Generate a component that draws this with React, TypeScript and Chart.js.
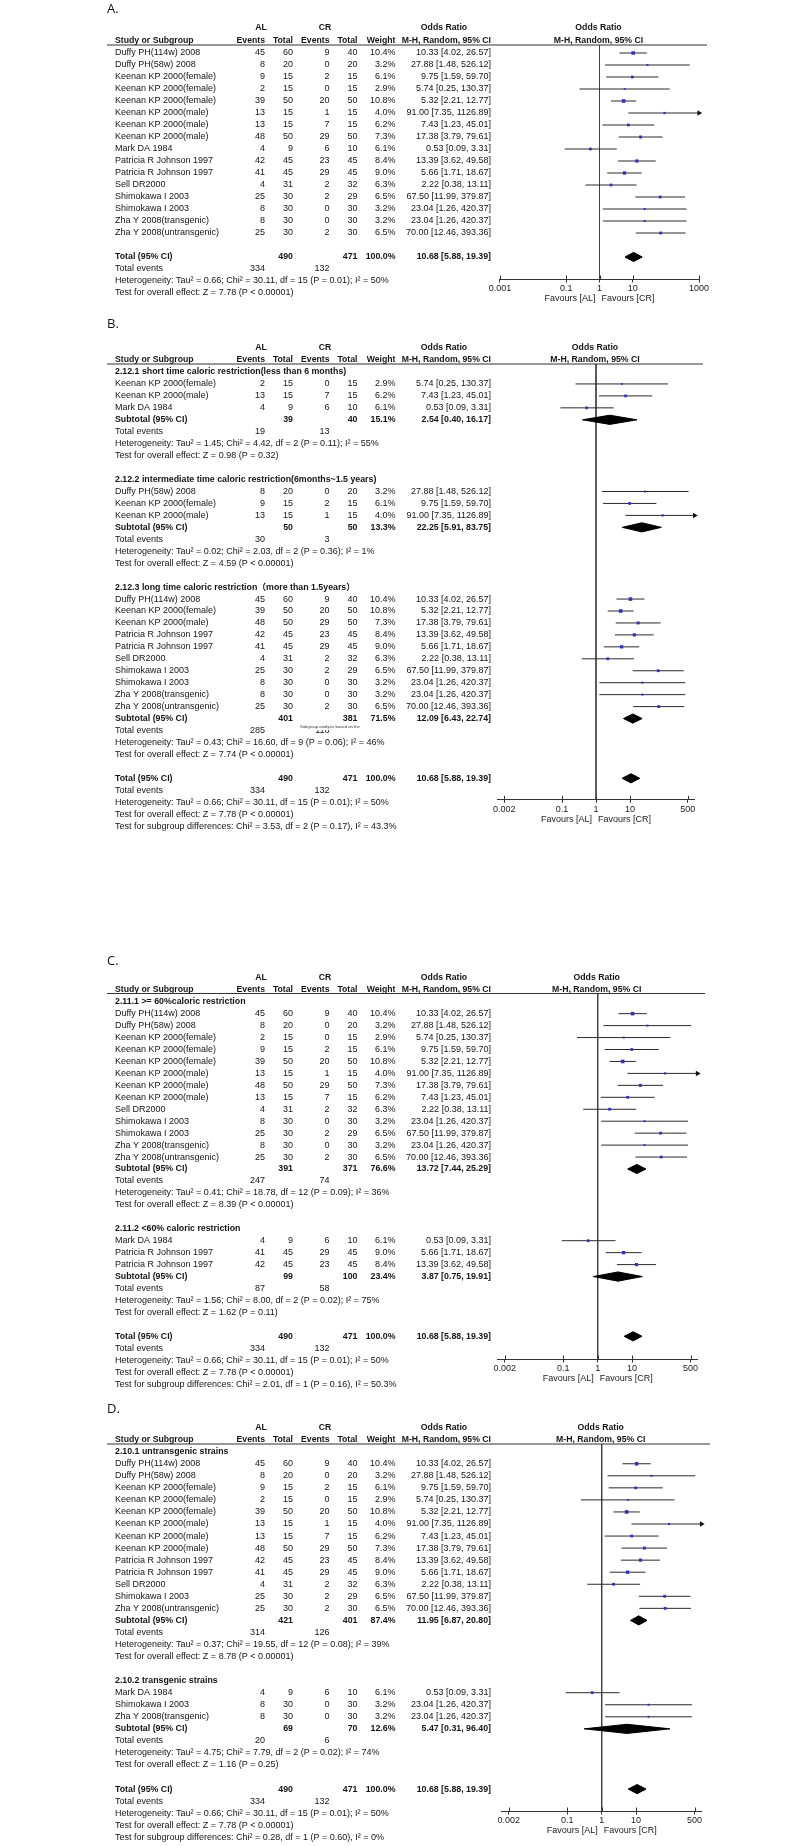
import React, { useEffect, useRef } from 'react';
import { Chart, registerables } from 'chart.js';
Chart.register(...registerables);

// ---------------- Study-level data (order of panel A) ----------------
const studyNames = [
  'Duffy PH(114w) 2008', 'Duffy PH(58w) 2008', 'Keenan KP 2000(female)', 'Keenan KP 2000(female)',
  'Keenan KP 2000(female)', 'Keenan KP 2000(male)', 'Keenan KP 2000(male)', 'Keenan KP 2000(male)',
  'Mark DA 1984', 'Patricia R Johnson 1997', 'Patricia R Johnson 1997', 'Sell DR2000',
  'Shimokawa I 2003', 'Shimokawa I 2003', 'Zha Y 2008(transgenic)', 'Zha Y 2008(untransgenic)',
];
const alEvents = [45, 8, 9, 2, 39, 13, 13, 48, 4, 42, 41, 4, 25, 8, 8, 25];
const alTotals = [60, 20, 15, 15, 50, 15, 15, 50, 9, 45, 45, 31, 30, 30, 30, 30];
const crEvents = [9, 0, 2, 0, 20, 1, 7, 29, 6, 23, 29, 2, 2, 0, 0, 2];
const crTotals = [40, 20, 15, 15, 50, 15, 15, 50, 10, 45, 45, 32, 29, 30, 30, 30];
const weights = [10.4, 3.2, 6.1, 2.9, 10.8, 4.0, 6.2, 7.3, 6.1, 8.4, 9.0, 6.3, 6.5, 3.2, 3.2, 6.5];
const orEst = [10.33, 27.88, 9.75, 5.74, 5.32, 91.0, 7.43, 17.38, 0.53, 13.39, 5.66, 2.22, 67.5, 23.04, 23.04, 70.0];
const orLow = [4.02, 1.48, 1.59, 0.25, 2.21, 7.35, 1.23, 3.79, 0.09, 3.62, 1.71, 0.38, 11.99, 1.26, 1.26, 12.46];
const orHigh = [26.57, 526.12, 59.7, 130.37, 12.77, 1126.89, 45.01, 79.61, 3.31, 49.58, 18.67, 13.11, 379.87, 420.37, 420.37, 393.36];

// ---------------- Overall totals ----------------
const totalTotals = [490, 471];
const totalEvents = [334, 132];
const totalWeight = 100.0;
const totalOR = [10.68, 5.88, 19.39];
const totalHet = [0.66, 30.11, 15]; // tau2, chi2, df
const totalHetP = '0.01';
const totalI2 = 50;
const totalZ = 7.78;
const totalZP = '< 0.00001';

// ---------------- Panel B subgroups ----------------
const bTitles = [
  '2.12.1 short time caloric restriction(less than 6 months)',
  '2.12.2 intermediate time caloric restriction(6months~1.5 years)',
  '2.12.3 long time caloric restriction（more than 1.5years）',
];
const bMembers = [[3, 6, 8], [1, 2, 5], [0, 4, 7, 9, 10, 11, 12, 13, 14, 15]];
const bSubTotAL = [39, 50, 401];
const bSubTotCR = [40, 50, 381];
const bSubWeight = [15.1, 13.3, 71.5];
const bSubEst = [2.54, 22.25, 12.09];
const bSubLow = [0.4, 5.91, 6.43];
const bSubHigh = [16.17, 83.75, 22.74];
const bEvAL = [19, 30, 285];
const bEvCR = [13, 3, 116];
const bTau = [1.45, 0.02, 0.43];
const bChi = [4.42, 2.03, 16.6];
const bDf = [2, 2, 9];
const bP = ['0.11', '0.36', '0.06'];
const bI2 = [55, 1, 46];
const bZ = [0.98, 4.59, 7.74];
const bZP = ['= 0.32', '< 0.00001', '< 0.00001'];
const bDiff = [3.53, 2, '0.17', '43.3'];

// ---------------- Panel C subgroups ----------------
const cTitles = ['2.11.1 >= 60%caloric restriction', '2.11.2 <60% caloric restriction'];
const cMembers = [[0, 1, 3, 2, 4, 5, 7, 6, 11, 13, 12, 14, 15], [8, 10, 9]];
const cSubTotAL = [391, 99];
const cSubTotCR = [371, 100];
const cSubWeight = [76.6, 23.4];
const cSubEst = [13.72, 3.87];
const cSubLow = [7.44, 0.75];
const cSubHigh = [25.29, 19.91];
const cEvAL = [247, 87];
const cEvCR = [74, 58];
const cTau = [0.41, 1.56];
const cChi = [18.78, 8.0];
const cDf = [12, 2];
const cP = ['0.09', '0.02'];
const cI2 = [36, 75];
const cZ = [8.39, 1.62];
const cZP = ['< 0.00001', '= 0.11'];
const cDiff = [2.01, 1, '0.16', '50.3'];

// ---------------- Panel D subgroups ----------------
const dTitles = ['2.10.1 untransgenic strains', '2.10.2 transgenic strains'];
const dMembers = [[0, 1, 2, 3, 4, 5, 6, 7, 9, 10, 11, 12, 15], [8, 13, 14]];
const dSubTotAL = [421, 69];
const dSubTotCR = [401, 70];
const dSubWeight = [87.4, 12.6];
const dSubEst = [11.95, 5.47];
const dSubLow = [6.87, 0.31];
const dSubHigh = [20.8, 96.4];
const dEvAL = [314, 20];
const dEvCR = [126, 6];
const dTau = [0.37, 4.75];
const dChi = [19.55, 7.79];
const dDf = [12, 2];
const dP = ['0.08', '0.02'];
const dI2 = [39, 74];
const dZ = [8.78, 1.16];
const dZP = ['< 0.00001', '= 0.25'];
const dDiff = [0.28, 1, '0.60', '0'];

// ---------------- Axis ticks ----------------
const ticksA = [0.001, 0.1, 1, 10, 1000];
const ticksBCD = [0.002, 0.1, 1, 10, 500];

// ---------------- helpers ----------------
type Sub = { label: string; alT: number; crT: number; w: number; est: number; lo: number; hi: number };
type Row =
  | { k: 'study'; i: number }
  | { k: 'head'; t: string }
  | { k: 'sub'; s: Sub }
  | { k: 'events'; a: number; c: number }
  | { k: 'text'; t: string }
  | { k: 'blank' };

const hetText = (tau: number, chi: number, df: number, p: string, i2: number | string) =>
  `Heterogeneity: Tau² = ${tau.toFixed(2)}; Chi² = ${chi.toFixed(2)}, df = ${df} (P = ${p}); I² = ${i2}%`;
const testText = (z: number, p: string) => `Test for overall effect: Z = ${z.toFixed(2)} (P ${p})`;
const diffText = (d: any[]) =>
  `Test for subgroup differences: Chi² = ${Number(d[0]).toFixed(2)}, df = ${d[1]} (P = ${d[2]}), I² = ${d[3]}%`;
const orText = (e: number, l: number, h: number) => `${e.toFixed(2)} [${l.toFixed(2)}, ${h.toFixed(2)}]`;

type GroupSet = {
  titles: string[]; members: number[][]; totAL: number[]; totCR: number[]; w: number[];
  est: number[]; lo: number[]; hi: number[]; evAL: number[]; evCR: number[];
  tau: number[]; chi: number[]; df: number[]; p: string[]; i2: number[]; z: number[]; zp: string[]; diff: any[];
};

function buildRows(g: GroupSet | null): Row[] {
  const rows: Row[] = [];
  if (!g) {
    studyNames.forEach((_, i) => rows.push({ k: 'study', i }));
    rows.push({ k: 'blank' });
  } else {
    g.titles.forEach((t, gi) => {
      rows.push({ k: 'head', t });
      g.members[gi].forEach((i) => rows.push({ k: 'study', i }));
      rows.push({
        k: 'sub',
        s: { label: 'Subtotal (95% CI)', alT: g.totAL[gi], crT: g.totCR[gi], w: g.w[gi], est: g.est[gi], lo: g.lo[gi], hi: g.hi[gi] },
      });
      rows.push({ k: 'events', a: g.evAL[gi], c: g.evCR[gi] });
      rows.push({ k: 'text', t: hetText(g.tau[gi], g.chi[gi], g.df[gi], g.p[gi], g.i2[gi]) });
      rows.push({ k: 'text', t: testText(g.z[gi], g.zp[gi]) });
      rows.push({ k: 'blank' });
    });
  }
  rows.push({
    k: 'sub',
    s: { label: 'Total (95% CI)', alT: totalTotals[0], crT: totalTotals[1], w: totalWeight, est: totalOR[0], lo: totalOR[1], hi: totalOR[2] },
  });
  rows.push({ k: 'events', a: totalEvents[0], c: totalEvents[1] });
  rows.push({ k: 'text', t: hetText(totalHet[0], totalHet[1], totalHet[2], totalHetP, totalI2) });
  rows.push({ k: 'text', t: testText(totalZ, totalZP) });
  if (g) rows.push({ k: 'text', t: diffText(g.diff) });
  return rows;
}

const groupsB: GroupSet = {
  titles: bTitles, members: bMembers, totAL: bSubTotAL, totCR: bSubTotCR, w: bSubWeight, est: bSubEst, lo: bSubLow,
  hi: bSubHigh, evAL: bEvAL, evCR: bEvCR, tau: bTau, chi: bChi, df: bDf, p: bP, i2: bI2, z: bZ, zp: bZP, diff: bDiff,
};
const groupsC: GroupSet = {
  titles: cTitles, members: cMembers, totAL: cSubTotAL, totCR: cSubTotCR, w: cSubWeight, est: cSubEst, lo: cSubLow,
  hi: cSubHigh, evAL: cEvAL, evCR: cEvCR, tau: cTau, chi: cChi, df: cDf, p: cP, i2: cI2, z: cZ, zp: cZP, diff: cDiff,
};
const groupsD: GroupSet = {
  titles: dTitles, members: dMembers, totAL: dSubTotAL, totCR: dSubTotCR, w: dSubWeight, est: dSubEst, lo: dSubLow,
  hi: dSubHigh, evAL: dEvAL, evCR: dEvCR, tau: dTau, chi: dChi, df: dDf, p: dP, i2: dI2, z: dZ, zp: dZP, diff: dDiff,
};

// ---------------- layout ----------------
const FAM = '"Liberation Sans", Arial, "Noto Sans CJK SC", sans-serif';
const F = (px: number, bold = false) => `${bold ? 'bold ' : ''}${px}px ${FAM}`;
const TXT = '#141414';
const COL = { name: 115, alE: 265, alT: 293, crE: 329.5, crT: 357.5, w: 395.5, or: 491, alHead: 261, crHead: 325, orHead: 444, lineL: 107 };
const AXIS_H = 30;

type Panel = {
  label: string; top: number; height: number; labelY: number; alY: number; headY: number; lineY: number; lineR: number;
  row0: number; step: number; axisY: number; one: number; pxDec: number; logMin: number; logMax: number; ticks: number[];
  rows: Row[]; note?: boolean;
};

const panels: Panel[] = [
  { label: 'A.', top: 0, height: 315, labelY: 9, alY: 28, headY: 41, lineY: 45, lineR: 707, row0: 53, step: 12, axisY: 279,
    one: 599.5, pxDec: 33.17, logMin: -3, logMax: 3, ticks: ticksA, rows: buildRows(null) },
  { label: 'B.', top: 315, height: 630, labelY: 324, alY: 347.5, headY: 360, lineY: 364, lineR: 703, row0: 372, step: 11.95,
    axisY: 799.3, one: 596, pxDec: 34, logMin: -2.9, logMax: 2.9, ticks: ticksBCD, rows: buildRows(groupsB), note: true },
  { label: 'C.', top: 945, height: 445, labelY: 961, alY: 977.7, headY: 990, lineY: 993.5, lineR: 705, row0: 1001.7, step: 11.95,
    axisY: 1359, one: 597.7, pxDec: 34.4, logMin: -2.9, logMax: 2.9, ticks: ticksBCD, rows: buildRows(groupsC) },
  { label: 'D.', top: 1390, height: 456, labelY: 1409, alY: 1427.3, headY: 1440, lineY: 1444, lineR: 710, row0: 1451.7, step: 12.05,
    axisY: 1811, one: 601.7, pxDec: 34.4, logMin: -2.9, logMax: 2.9, ticks: ticksBCD, rows: buildRows(groupsD) },
];

function makeConfig(p: Panel): any {
  const xMin = Math.pow(10, p.logMin);
  const xMax = Math.pow(10, p.logMax);
  const yMin = (p.lineY - p.row0) / p.step;
  const yMax = (p.axisY - p.row0) / p.step;
  const plotLeft = p.one + p.logMin * p.pxDec;
  const plotRight = p.one + p.logMax * p.pxDec;
  const h = 4.6 / p.step;

  const squares: any[] = [];
  const sqR: number[] = [];
  const arrows: any[] = [];
  const ciSets: any[] = [];
  const diamondSets: any[] = [];
  p.rows.forEach((r, idx) => {
    if (r.k === 'study') {
      const i = r.i;
      ciSets.push({
        data: [{ x: Math.max(orLow[i], xMin), y: idx }, { x: Math.min(orHigh[i], xMax), y: idx }],
        showLine: true, borderColor: '#2a2a2a', borderWidth: 1, pointRadius: 0, clip: false,
      });
      squares.push({ x: orEst[i], y: idx });
      sqR.push((1.1 * Math.sqrt(weights[i])) / Math.SQRT2);
      if (orHigh[i] > xMax) arrows.push({ x: xMax, y: idx });
    } else if (r.k === 'sub') {
      const s = r.s;
      diamondSets.push({
        data: [
          { x: s.lo, y: idx }, { x: s.est, y: idx - h }, { x: s.hi, y: idx }, { x: s.est, y: idx + h }, { x: s.lo, y: idx },
        ],
        showLine: true, fill: 'shape', backgroundColor: '#000', borderColor: '#000', borderWidth: 1, pointRadius: 0,
        tension: 0, clip: false,
      });
    }
  });

  const datasets = [
    { data: squares, pointStyle: 'rect', pointRadius: sqR, backgroundColor: '#3030c8', borderWidth: 0, clip: false },
    { data: arrows, pointStyle: 'triangle', pointRotation: 90, pointRadius: 3.2, backgroundColor: '#111', borderColor: '#111', borderWidth: 0, clip: false },
    ...diamondSets,
    ...ciSets,
    { data: [{ x: 1, y: yMin }, { x: 1, y: yMax }], showLine: true, borderColor: '#444', borderWidth: 1, pointRadius: 0, clip: false },
  ];

  const tablePlugin = {
    id: 'forestTable',
    afterDraw(chart: any) {
      const ctx: CanvasRenderingContext2D = chart.ctx;
      const ys = chart.scales.y;
      const xs = chart.scales.x;
      const o = p.top;
      const Y = (r: number) => ys.getPixelForValue(r);
      const x1 = xs.getPixelForValue(1);
      ctx.save();
      ctx.fillStyle = TXT;
      ctx.textBaseline = 'middle';
      const txt = (t: string, x: number, y: number, align: CanvasTextAlign, font: string) => {
        ctx.font = font;
        ctx.textAlign = align;
        ctx.fillText(t, x, y);
      };
      txt(p.label, COL.lineL, p.labelY - o, 'left', `13px "Open Sans", ${FAM}`);
      const hb = F(8.7, true);
      const ay = p.alY - o;
      txt('AL', COL.alHead, ay, 'center', hb);
      txt('CR', COL.crHead, ay, 'center', hb);
      txt('Odds Ratio', COL.orHead, ay, 'center', hb);
      txt('Odds Ratio', x1 - 1, ay, 'center', hb);
      const hy = p.headY - o;
      txt('Study or Subgroup', COL.name, hy, 'left', hb);
      txt('Events', COL.alE, hy, 'right', hb);
      txt('Total', COL.alT, hy, 'right', hb);
      txt('Events', COL.crE, hy, 'right', hb);
      txt('Total', COL.crT, hy, 'right', hb);
      txt('Weight', COL.w, hy, 'right', hb);
      txt('M-H, Random, 95% CI', COL.or, hy, 'right', hb);
      txt('M-H, Random, 95% CI', x1 - 1, hy, 'center', hb);
      ctx.strokeStyle = '#333';
      ctx.lineWidth = 1.2;
      ctx.beginPath();
      ctx.moveTo(COL.lineL, p.lineY - o);
      ctx.lineTo(p.lineR, p.lineY - o);
      ctx.stroke();

      const reg = F(9);
      const bold = F(8.8, true);
      p.rows.forEach((r, idx) => {
        const y = Y(idx);
        if (r.k === 'study') {
          const i = r.i;
          txt(studyNames[i], COL.name, y, 'left', reg);
          txt(String(alEvents[i]), COL.alE, y, 'right', reg);
          txt(String(alTotals[i]), COL.alT, y, 'right', reg);
          txt(String(crEvents[i]), COL.crE, y, 'right', reg);
          txt(String(crTotals[i]), COL.crT, y, 'right', reg);
          txt(weights[i].toFixed(1) + '%', COL.w, y, 'right', reg);
          txt(orText(orEst[i], orLow[i], orHigh[i]), COL.or, y, 'right', reg);
        } else if (r.k === 'head') {
          txt(r.t, COL.name, y, 'left', bold);
        } else if (r.k === 'sub') {
          const s = r.s;
          txt(s.label, COL.name, y, 'left', bold);
          txt(String(s.alT), COL.alT, y, 'right', bold);
          txt(String(s.crT), COL.crT, y, 'right', bold);
          txt(s.w.toFixed(1) + '%', COL.w, y, 'right', bold);
          txt(orText(s.est, s.lo, s.hi), COL.or, y, 'right', bold);
        } else if (r.k === 'events') {
          txt('Total events', COL.name, y, 'left', reg);
          txt(String(r.a), COL.alE, y, 'right', reg);
          txt(String(r.c), COL.crE, y, 'right', reg);
        } else if (r.k === 'text') {
          txt(r.t, COL.name, y, 'left', reg);
        }
      });

      // upward half of tick marks
      const axY = chart.chartArea.bottom;
      ctx.strokeStyle = '#333';
      ctx.lineWidth = 1;
      ctx.beginPath();
      p.ticks.forEach((t) => {
        const px = Math.round(xs.getPixelForValue(t)) + 0.5;
        ctx.moveTo(px, axY);
        ctx.lineTo(px, axY - 3.5);
      });
      ctx.stroke();

      ctx.fillStyle = '#222';
      txt('Favours [AL]', x1 - 4, p.axisY + 20 - o, 'right', reg);
      txt('Favours [CR]', x1 + 2, p.axisY + 20 - o, 'left', reg);

      if (p.note) {
        const idx = p.rows.findIndex((r, j) => r.k === 'events' && j > 25);
        const ny = Y(idx) - 3.4;
        ctx.fillStyle = '#fff';
        ctx.fillRect(299, ny - 3.2, 67, 6.2);
        ctx.fillStyle = '#333';
        txt('Subgroup analysis based on the', 300, ny, 'left', F(4.2));
      }
      ctx.restore();
    },
  };

  return {
    type: 'scatter',
    data: { datasets },
    options: {
      responsive: false,
      animation: false,
      devicePixelRatio: 1,
      events: [],
      layout: {
        padding: {
          left: plotLeft,
          right: 800 - plotRight,
          top: p.lineY - p.top,
          bottom: p.height - (p.axisY - p.top) - AXIS_H,
        },
      },
      plugins: { legend: { display: false }, tooltip: { enabled: false }, title: { display: false } },
      scales: {
        x: {
          type: 'logarithmic',
          position: 'bottom',
          min: xMin,
          max: xMax,
          afterBuildTicks: (s: any) => {
            s.ticks = p.ticks.map((v) => ({ value: v }));
          },
          afterFit: (s: any) => {
            s.height = AXIS_H;
          },
          ticks: {
            autoSkip: false,
            maxRotation: 0,
            minRotation: 0,
            padding: 1,
            color: '#222',
            font: { family: FAM, size: 9 },
            callback: (v: any) => String(v),
          },
          grid: { drawOnChartArea: false, drawTicks: true, tickLength: 3.5, color: '#333', lineWidth: 1 },
          border: { display: true, color: '#333', width: 1 },
        },
        y: { type: 'linear', display: false, reverse: true, min: yMin, max: yMax },
      },
    },
    plugins: [tablePlugin],
  };
}

function ForestPanel({ p }: { p: Panel }) {
  const ref = useRef<HTMLCanvasElement>(null);
  useEffect(() => {
    if (!ref.current) return;
    const chart = new Chart(ref.current, makeConfig(p));
    return () => chart.destroy();
  }, [p]);
  return (
    <canvas
      ref={ref}
      width={800}
      height={p.height}
      style={{ position: 'absolute', left: 0, top: p.top, width: 800, height: p.height }}
    />
  );
}

export default function App() {
  return (
    <div style={{ position: 'absolute', left: 0, top: 0, width: 800, height: 1846, background: '#fff', overflow: 'hidden' }}>
      {panels.map((p) => (
        <ForestPanel key={p.label} p={p} />
      ))}
    </div>
  );
}
